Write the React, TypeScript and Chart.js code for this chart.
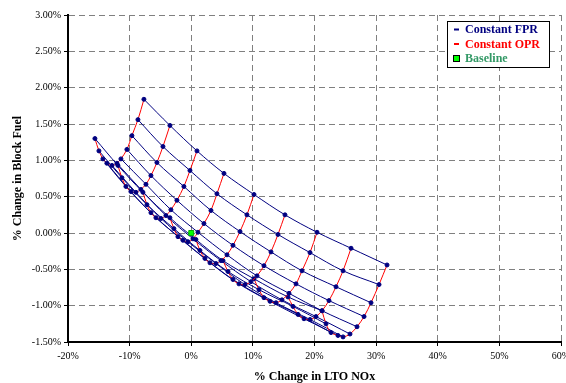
import React, { useEffect, useRef } from "react";
import { Chart, registerables } from "chart.js";

Chart.register(...registerables);

// Each constant-OPR curve: % change in LTO NOx (x) and % change in block fuel (y),
// points ordered by FPR step (0 = lowest FPR, top of the carpet)
const opr1Nox = [-7.68, -8.65, -9.63, -10.44, -11.41, -12.06, -12.87, -13.69, -14.33, -14.98, -15.63];
const opr1Fuel = [1.84, 1.56, 1.34, 1.15, 1.02, 0.96, 0.93, 0.96, 1.02, 1.13, 1.3];

const opr2Nox = [-3.46, -4.59, -5.57, -6.54, -7.35, -8.17, -8.98, -9.79, -10.6, -11.25, -11.9];
const opr2Fuel = [1.48, 1.19, 0.97, 0.79, 0.67, 0.6, 0.56, 0.57, 0.64, 0.76, 0.93];

const opr3Nox = [0.93, -0.21, -1.19, -2.32, -3.3, -4.11, -4.92, -5.73, -6.54, -7.19, -7.84];
const opr3Fuel = [1.13, 0.86, 0.64, 0.45, 0.32, 0.24, 0.2, 0.21, 0.28, 0.39, 0.56];

const opr4Nox = [5.31, 4.17, 3.2, 2.06, 1.09, 0.28, -0.54, -1.35, -2.16, -2.81, -3.46];
const opr4Fuel = [0.82, 0.54, 0.31, 0.13, 0.01, -0.08, -0.12, -0.1, -0.05, 0.06, 0.21];

const opr5Nox = [10.18, 9.04, 7.91, 6.77, 5.8, 4.82, 4.01, 3.04, 2.22, 1.41, 0.76];
const opr5Fuel = [0.53, 0.25, 0.02, -0.17, -0.3, -0.38, -0.42, -0.41, -0.35, -0.24, -0.09];

const opr6Nox = [15.21, 14.07, 12.94, 11.8, 10.67, 9.69, 8.72, 7.74, 6.77, 5.96, 5.15];
const opr6Fuel = [0.25, -0.02, -0.26, -0.45, -0.59, -0.67, -0.71, -0.7, -0.64, -0.53, -0.38];

const opr7Nox = [20.41, 19.27, 17.97, 17.0, 15.86, 14.72, 13.75, 12.78, 11.8, 10.99, 10.18];
const opr7Fuel = [0.01, -0.27, -0.52, -0.7, -0.83, -0.92, -0.96, -0.94, -0.89, -0.78, -0.63];

const opr8Nox = [25.93, 24.63, 23.49, 22.35, 21.22, 20.24, 19.27, 18.3, 17.32, 16.51, 15.7];
const opr8Fuel = [-0.21, -0.52, -0.74, -0.93, -1.07, -1.15, -1.19, -1.18, -1.12, -1.01, -0.88];

const opr9Nox = [31.77, 30.47, 29.17, 28.04, 26.9, 25.76, 24.63, 23.81, 22.68, 21.87, 21.22];
const opr9Fuel = [-0.44, -0.71, -0.96, -1.15, -1.29, -1.39, -1.43, -1.41, -1.37, -1.25, -1.07];

const baselineNox = [0];
const baselineFuel = [0];

const xTicks = [-20, -10, 0, 10, 20, 30, 40, 50, 60];
const yTicks = [-1.5, -1.0, -0.5, 0.0, 0.5, 1.0, 1.5, 2.0, 2.5, 3.0];

const legendLabels = ["Constant FPR", "Constant OPR", "Baseline"];
const xTitle = "% Change in LTO NOx";
const yTitle = "% Change in Block Fuel";

const oprCurves = [
  [opr1Nox, opr1Fuel],
  [opr2Nox, opr2Fuel],
  [opr3Nox, opr3Fuel],
  [opr4Nox, opr4Fuel],
  [opr5Nox, opr5Fuel],
  [opr6Nox, opr6Fuel],
  [opr7Nox, opr7Fuel],
  [opr8Nox, opr8Fuel],
  [opr9Nox, opr9Fuel],
];

const NAVY = "#000080";
const RED = "#FF0000";
const GREEN_TEXT = "#339966";
const SERIF = '"Liberation Serif", "Times New Roman", serif';

const legendPlugin = {
  id: "boxLegend",
  afterDraw(chart: any) {
    const { ctx, chartArea } = chart;
    const x0 = Math.round(chartArea.right - 114);
    const y0 = Math.round(chartArea.top + 6);
    const w = 102;
    const h = 46;
    ctx.save();
    ctx.fillStyle = "#ffffff";
    ctx.fillRect(x0, y0, w, h);
    ctx.strokeStyle = "#000000";
    ctx.lineWidth = 1;
    ctx.strokeRect(x0 + 0.5, y0 + 0.5, w, h);
    const colors = [NAVY, RED, GREEN_TEXT];
    ctx.font = `bold 12px ${SERIF}`;
    ctx.textBaseline = "middle";
    ctx.textAlign = "left";
    legendLabels.forEach((label, i) => {
      const cy = y0 + 8.5 + i * 14.5;
      if (i < 2) {
        ctx.strokeStyle = colors[i];
        ctx.lineWidth = 2;
        ctx.beginPath();
        ctx.moveTo(x0 + 7, cy);
        ctx.lineTo(x0 + 12, cy);
        ctx.stroke();
      } else {
        ctx.fillStyle = "#00FF00";
        ctx.fillRect(x0 + 6.5, cy - 3, 6, 6);
        ctx.strokeStyle = "#000000";
        ctx.lineWidth = 1;
        ctx.strokeRect(x0 + 6.5, cy - 3, 6, 6);
      }
      ctx.fillStyle = colors[i];
      ctx.fillText(label, x0 + 18, cy + 0.5);
    });
    ctx.restore();
  },
};

export default function App() {
  const ref = useRef<HTMLCanvasElement | null>(null);

  useEffect(() => {
    const canvas = ref.current;
    if (!canvas) return;

    const redSets = oprCurves.map(([nox, fuel], k) => ({
      label: `OPR ${k + 1}`,
      data: nox.map((x, j) => ({ x, y: fuel[j] })),
      showLine: true,
      borderColor: RED,
      borderWidth: 1,
      backgroundColor: NAVY,
      pointRadius: 2,
      pointBorderWidth: 1,
      pointBackgroundColor: NAVY,
      pointBorderColor: NAVY,
      tension: 0.35,
      fill: false,
      order: 1,
    }));

    const fprCount = opr1Nox.length;
    const blueSets = Array.from({ length: fprCount }, (_, j) => ({
      label: `FPR ${j + 1}`,
      data: oprCurves.map(([nox, fuel]) => ({ x: nox[j], y: fuel[j] })),
      showLine: true,
      borderColor: NAVY,
      borderWidth: 1,
      pointRadius: 0,
      tension: 0.35,
      fill: false,
      order: 2,
    }));

    const baseSet = {
      label: "Baseline",
      data: baselineNox.map((x, i) => ({ x, y: baselineFuel[i] })),
      showLine: false,
      pointStyle: "rect",
      pointRadius: 3.5,
      pointBackgroundColor: "#00FF00",
      pointBorderColor: "#00AA00",
      pointBorderWidth: 1,
      order: 0,
    };

    const tickFont = { family: SERIF, size: 10 };
    const titleFont = { family: SERIF, size: 12, weight: "bold" as const, lineHeight: 1 };

    const chart = new Chart(canvas, {
      type: "scatter",
      data: { datasets: [baseSet, ...redSets, ...blueSets] as any },
      options: {
        responsive: false,
        devicePixelRatio: 1,
        animation: false,
        events: [],
        layout: { padding: { left: 0, right: 5, top: 15, bottom: 0 } },
        plugins: { legend: { display: false }, tooltip: { enabled: false } },
        scales: {
          x: {
            type: "linear",
            min: xTicks[0],
            max: xTicks[xTicks.length - 1],
            afterBuildTicks: (s: any) => {
              s.ticks = xTicks.map((v) => ({ value: v }));
            },
            ticks: {
              callback: (v: any) => `${v}%`,
              font: tickFont,
              color: "#000",
              padding: 4,
              autoSkip: false,
              maxRotation: 0,
            },
            grid: {
              color: "#808080",
              lineWidth: 1,
              tickLength: 4,
              tickColor: "#000",
              tickWidth: 1,
              tickBorderDash: [],
            },
            border: { display: true, color: "#000", width: 2, dash: [6, 4] },
            title: {
              display: true,
              text: xTitle,
              font: titleFont,
              color: "#000",
              padding: { top: 0, bottom: 0 },
            },
            afterFit: (s: any) => {
              s.height = 41;
              s.paddingLeft = 0;
              s.paddingRight = 0;
            },
          } as any,
          y: {
            type: "linear",
            min: yTicks[0],
            max: yTicks[yTicks.length - 1],
            afterBuildTicks: (s: any) => {
              s.ticks = yTicks.map((v) => ({ value: v }));
            },
            ticks: {
              callback: (v: any) => `${Number(v).toFixed(2)}%`,
              font: tickFont,
              color: "#000",
              padding: 3,
              autoSkip: false,
            },
            grid: {
              color: "#808080",
              lineWidth: 1,
              tickLength: 4,
              tickColor: "#000",
              tickWidth: 1,
              tickBorderDash: [],
            },
            border: { display: true, color: "#000", width: 2, dash: [6, 4] },
            title: {
              display: true,
              text: yTitle,
              font: titleFont,
              color: "#000",
              padding: { top: 12, bottom: 0 },
            },
            afterFit: (s: any) => {
              s.width = 68;
              s.paddingTop = 0;
              s.paddingBottom = 0;
            },
          } as any,
        },
      },
      plugins: [legendPlugin],
    });

    return () => chart.destroy();
  }, []);

  return (
    <div
      style={{
        position: "fixed",
        left: 0,
        top: 0,
        width: 566,
        height: 383,
        background: "#ffffff",
      }}
    >
      <canvas ref={ref} width={566} height={383} style={{ display: "block", width: 566, height: 383 }} />
    </div>
  );
}
